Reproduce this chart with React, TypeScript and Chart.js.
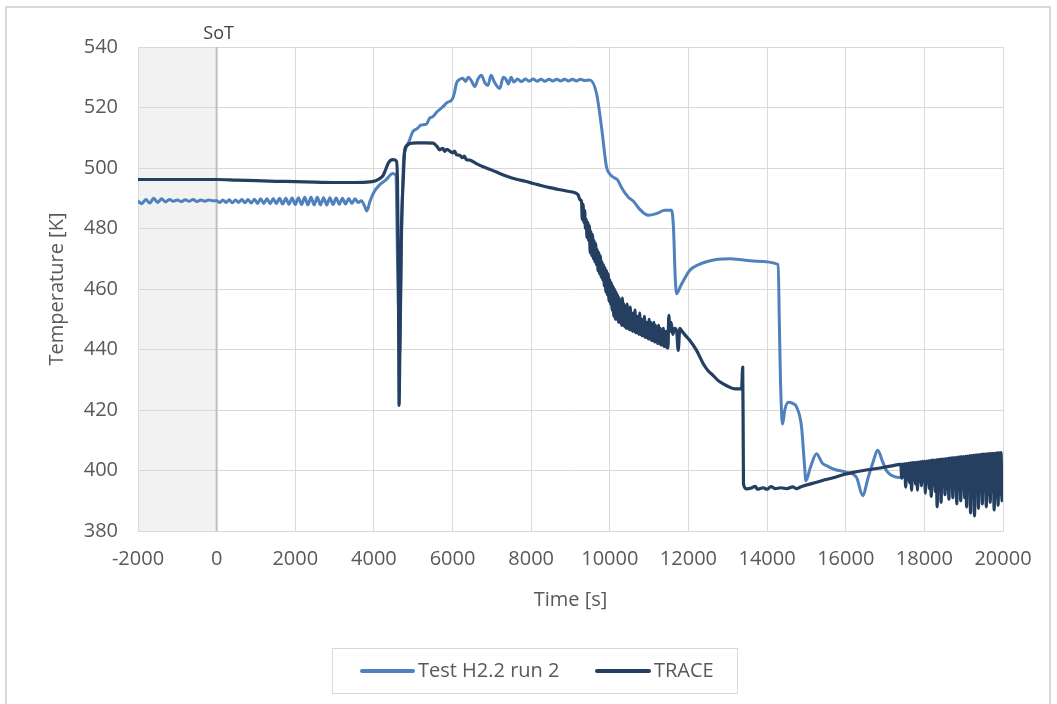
import React, { useEffect, useRef } from "react";
import { Chart, registerables } from "chart.js";

Chart.register(...registerables);

const FONT = "'Open Sans', 'Noto Sans', sans-serif";
const TEXT_COLOR = "#595959";
const GRID_COLOR = "#d9d9d9";

const seriesNames = ["Test H2.2 run 2", "TRACE"];
const seriesColors = ["#4F81BD", "#243F60"];
const xAxisTitle = "Time [s]";
const yAxisTitle = "Temperature [K]";
const markerLabel = "SoT";
const markerTime = 0;
const shadeRange = [-2000, 0];

const testTime = [
  -2000, -1900, -1800, -1700, -1600, -1500, -1400, -1300, -1200, -1100,
  -1000, -900, -800, -700, -600, -500, -400, -300, -200, -100,
  0, 80, 160, 240, 320, 400, 480, 560, 640, 720,
  800, 880, 960, 1040, 1120, 1200, 1280, 1360, 1440, 1520,
  1600, 1680, 1760, 1840, 1920, 2000, 2080, 2160, 2240, 2320,
  2400, 2480, 2560, 2640, 2720, 2800, 2880, 2960, 3040, 3120,
  3200, 3280, 3360, 3440, 3520, 3600, 3680, 3760, 3820, 3900,
  4000, 4150, 4300, 4480, 4560, 4600, 4657, 4700, 4750, 4800,
  4900, 4988, 5100, 5200, 5335, 5420, 5500, 5600, 5751, 5850,
  6005, 6050, 6099, 6180, 6260, 6330, 6400, 6480, 6565, 6650,
  6735, 6820, 6900, 6980, 7060, 7201, 7290, 7350, 7420, 7490,
  7560, 7650, 7750, 7850, 7950, 8050, 8150, 8250, 8350, 8450,
  8550, 8650, 8750, 8850, 8950, 9050, 9150, 9250, 9350, 9491,
  9661, 9788, 9915, 10000, 10085, 10200, 10300, 10466, 10600, 10750,
  10975, 11200, 11400, 11570, 11620, 11660, 11697, 11800, 12036, 12250,
  12460, 12750, 13054, 13400, 13733, 14283, 14310, 14340, 14394, 14450,
  14538, 14650, 14750, 14877, 14950, 14987, 15100, 15258, 15400, 15513,
  15682, 16021, 16276, 16429, 16572, 16700, 16811, 16950, 17040, 17379,
  17700, 18000, 18500, 19000, 19500, 20000,
];

const testTemp = [
  489.0, 488.2, 489.6, 488.4, 490.0, 488.6, 489.8, 488.8, 489.6, 489.0,
  489.4, 488.9, 489.5, 489.0, 489.6, 488.9, 489.4, 489.0, 489.4, 489.2,
  489.2, 488.6, 489.4, 488.6, 489.5, 488.5, 489.4, 488.6, 489.6, 488.5,
  489.6, 488.4, 489.7, 488.3, 489.8, 488.3, 489.8, 488.2, 489.9, 488.2,
  490.0, 488.1, 490.0, 488.0, 490.1, 487.9, 490.2, 487.9, 490.3, 487.8,
  490.3, 487.8, 490.3, 487.8, 490.2, 487.8, 490.2, 487.9, 490.1, 488.0,
  490.0, 488.1, 489.9, 488.3, 489.8, 488.6, 489.2, 487.5, 485.8, 489.0,
  492.0, 494.5, 496.0, 498.2, 497.5, 470.0, 438.7, 475.0, 501.5, 506.0,
  509.0, 512.0, 513.0, 514.2, 514.5, 516.5, 517.0, 518.5, 520.2, 521.5,
  523.0, 525.0, 528.0, 529.3, 529.7, 528.6, 530.0, 528.8, 526.9, 529.5,
  530.7, 528.2, 527.3, 530.7, 528.5, 526.3, 530.0, 529.5, 527.8, 530.0,
  528.4, 529.4, 528.6, 529.4, 528.7, 529.4, 528.7, 529.3, 528.7, 529.3,
  528.8, 529.3, 528.8, 529.3, 528.8, 529.3, 528.8, 529.3, 528.9, 529.1,
  524.7, 513.6, 500.4, 498.0, 497.0, 496.0, 493.5, 490.4, 489.0, 486.5,
  484.4, 485.0, 486.0, 486.0, 480.0, 465.0, 458.4, 461.0, 466.2, 468.0,
  469.0, 469.8, 470.0, 469.6, 469.2, 468.1, 450.0, 430.0, 415.4, 420.0,
  422.6, 422.2, 421.0, 414.3, 402.0, 396.6, 401.0, 405.5, 402.5, 401.6,
  400.5, 399.4, 397.7, 391.7, 397.7, 403.0, 406.7, 402.5, 399.9, 397.7,
  398.5, 399.0, 399.5, 400.0, 400.2, 400.0,
];

const traceTime = [
  -2000, -1000, 0, 500, 1000, 1500, 2000, 2500, 3000, 3500,
  3893, 4050, 4150, 4232, 4300, 4360, 4430, 4487, 4572, 4600,
  4625, 4640, 4660, 4700, 4750, 4784, 4850, 4911, 5100, 5300,
  5505, 5600, 5674, 5750, 5800, 5850, 5929, 6000, 6050, 6100,
  6184, 6250, 6300, 6350, 6438, 6600, 6776, 7000, 7201, 7400,
  7625, 7850, 8049, 8250, 8473, 8700, 8898, 9152, 9200, 9240,
  9280, 9300, 9320, 9340, 9360, 9380, 9400, 9420, 9440, 9460,
  9480, 9500, 9520, 9540, 9560, 9580, 9600, 9620, 9640, 9660,
  9680, 9700, 9720, 9740, 9760, 9780, 9800, 9820, 9840, 9860,
  9880, 9900, 9920, 9940, 9960, 9980, 10000, 10020, 10040, 10060,
  10080, 10100, 10120, 10140, 10160, 10180, 10200, 10220, 10240, 10260,
  10280, 10300, 10320, 10340, 10360, 10380, 10400, 10420, 10440, 10460,
  10480, 10500, 10520, 10540, 10560, 10580, 10600, 10620, 10640, 10660,
  10680, 10700, 10720, 10740, 10760, 10780, 10800, 10820, 10840, 10860,
  10880, 10900, 10920, 10940, 10960, 10980, 11000, 11020, 11040, 11060,
  11080, 11100, 11120, 11140, 11160, 11180, 11200, 11220, 11240, 11260,
  11280, 11300, 11320, 11340, 11360, 11380, 11400, 11420, 11440, 11460,
  11480,
  11500, 11530, 11560, 11600, 11650, 11700, 11740, 11780, 11824, 11900,
  12036, 12206, 12376, 12500, 12630, 12750, 12884, 13050, 13181, 13351,
  13380, 13393, 13400, 13478, 13600, 13700, 13750, 13900, 14000, 14100,
  14200, 14350, 14500, 14650, 14750, 14835, 15000, 15258, 15500, 15682,
  15950, 16191, 16450, 16700, 16950, 17209, 17379,
  17400, 17425, 17450, 17475, 17500, 17525, 17550, 17575, 17600, 17625,
  17650, 17675, 17700, 17725, 17750, 17775, 17800, 17825, 17850, 17875,
  17900, 17925, 17950, 17975, 18000, 18025, 18050, 18075, 18100, 18125,
  18150, 18175, 18200, 18225, 18250, 18275, 18300, 18325, 18350, 18375,
  18400, 18425, 18450, 18475, 18500, 18525, 18550, 18575, 18600, 18625,
  18650, 18675, 18700, 18725, 18750, 18775, 18800, 18825, 18850, 18875,
  18900, 18925, 18950, 18975, 19000, 19025, 19050, 19075, 19100, 19125,
  19150, 19175, 19200, 19225, 19250, 19275, 19300, 19325, 19350, 19375,
  19400, 19425, 19450, 19475, 19500, 19525, 19550, 19575, 19600, 19625,
  19650, 19675, 19700, 19725, 19750, 19775, 19800, 19825, 19850, 19875,
  19900, 19925, 19950, 19975, 20000,
];

const traceTemp = [
  496.2, 496.2, 496.2, 496.0, 495.8, 495.6, 495.5, 495.3, 495.2, 495.2,
  495.4, 495.8, 496.5, 497.5, 499.5, 501.5, 502.6, 502.8, 502.3, 495.0,
  460.0, 421.5, 440.0, 479.4, 497.0, 505.9, 507.5, 508.1, 508.3, 508.3,
  508.2, 507.2, 506.0, 506.5, 505.5, 506.2, 505.6, 505.0, 505.6, 504.4,
  504.2, 503.4, 503.9, 502.8, 502.6, 501.5, 500.4, 499.3, 498.2, 497.2,
  496.3, 495.6, 494.9, 494.2, 493.5, 492.9, 492.4, 491.6, 491.0, 489.5,
  489.0, 483.0, 488.0, 482.0, 486.0, 480.0, 483.0, 477.0, 482.0, 476.0,
  481.0, 472.0, 479.0, 471.0, 478.0, 470.0, 476.0, 469.0, 475.0, 468.0,
  473.0, 466.0, 472.0, 465.0, 471.0, 464.0, 469.0, 463.0, 468.0, 461.0,
  467.0, 459.0, 466.0, 458.0, 465.0, 456.0, 463.0, 455.0, 462.0, 453.0,
  461.0, 451.0, 460.0, 450.0, 459.0, 450.0, 458.0, 449.0, 457.0, 449.0,
  456.0, 448.0, 457.0, 448.0, 455.0, 447.5, 454.0, 447.0, 455.0, 447.0,
  453.0, 446.5, 454.0, 446.5, 452.0, 446.0, 452.0, 446.0, 453.0, 445.5,
  451.0, 445.5, 451.0, 445.0, 452.0, 445.0, 450.0, 444.5, 450.0, 444.5,
  451.0, 444.0, 449.0, 444.0, 449.0, 443.5, 450.0, 443.5, 449.0, 443.0,
  448.0, 443.0, 449.0, 442.5, 448.0, 442.5, 447.0, 442.0, 448.0, 442.0,
  447.0, 441.5, 446.0, 441.5, 447.0, 441.0, 446.0, 441.0, 446.0, 440.5,
  440.5,
  451.3, 446.0, 449.0, 445.0, 447.0, 446.0, 439.7, 447.0, 446.3, 445.0,
  443.0, 439.7, 435.3, 433.0, 431.4, 429.8, 428.6, 427.5, 427.0, 427.0,
  434.2, 410.0, 395.5, 393.9, 394.2, 394.8, 393.8, 394.3, 393.8, 394.7,
  394.0, 394.3, 394.0, 394.6, 394.0, 394.5, 395.2, 396.1, 397.0, 397.6,
  398.7, 399.4, 400.0, 400.5, 401.0, 401.6, 402.0,
  402.0, 397.5, 402.1, 398.0, 402.2, 394.5, 402.3, 397.0, 402.4, 396.0,
  402.5, 393.5, 402.6, 397.0, 402.6, 395.5, 402.7, 393.5, 402.8, 396.5,
  402.9, 395.0, 403.0, 396.5, 403.0, 392.5, 403.1, 396.0, 403.2, 394.0,
  403.3, 391.5, 403.4, 395.5, 403.4, 393.0, 403.5, 388.0, 403.6, 394.5,
  403.7, 389.5, 403.8, 395.0, 403.8, 392.0, 403.9, 394.0, 404.0, 390.5,
  404.1, 395.0, 404.2, 391.0, 404.3, 394.0, 404.3, 389.0, 404.4, 393.5,
  404.5, 390.0, 404.6, 394.0, 404.6, 391.0, 404.7, 388.0, 404.8, 393.5,
  404.9, 386.0, 404.9, 391.0, 405.0, 385.0, 405.1, 392.5, 405.2, 387.5,
  405.2, 393.0, 405.3, 389.0, 405.4, 393.5, 405.4, 388.0, 405.5, 392.0,
  405.6, 389.5, 405.6, 393.0, 405.7, 387.0, 405.7, 391.0, 405.8, 388.5,
  405.8, 392.0, 405.9, 390.0, 399.0,
];

const bgPlugin = {
  id: "sotShade",
  beforeDraw(chart: any) {
    const { ctx, chartArea, scales } = chart;
    const x = scales.x;
    const x0 = x.getPixelForValue(shadeRange[0]);
    const x1 = x.getPixelForValue(shadeRange[1]);
    ctx.save();
    ctx.fillStyle = "#f2f2f2";
    ctx.fillRect(x0, chartArea.top, x1 - x0, chartArea.bottom - chartArea.top);
    ctx.restore();
  },
  beforeDatasetsDraw(chart: any) {
    const { ctx, chartArea, scales } = chart;
    const xm = scales.x.getPixelForValue(markerTime);
    ctx.save();
    ctx.strokeStyle = "#bfbfbf";
    ctx.lineWidth = 2;
    ctx.beginPath();
    ctx.moveTo(xm, chartArea.top);
    ctx.lineTo(xm, chartArea.bottom);
    ctx.stroke();
    ctx.fillStyle = "#404040";
    ctx.font = `18px ${FONT}`;
    ctx.textAlign = "center";
    ctx.textBaseline = "middle";
    ctx.fillText(markerLabel, xm + 2, 34);
    ctx.restore();
  },
};

const legendPlugin = {
  id: "boxLegend",
  afterDraw(chart: any) {
    const { ctx } = chart;
    ctx.save();
    ctx.strokeStyle = GRID_COLOR;
    ctx.lineWidth = 1;
    ctx.strokeRect(332.5, 648.5, 405, 45);
    const items = [
      { x0: 362, x1: 413, tx: 418 },
      { x0: 597, x1: 649, tx: 654 },
    ];
    chart.data.datasets.forEach((ds: any, i: number) => {
      const it = items[i];
      ctx.strokeStyle = ds.borderColor;
      ctx.lineWidth = 4;
      ctx.lineCap = "round";
      ctx.beginPath();
      ctx.moveTo(it.x0, 671);
      ctx.lineTo(it.x1, 671);
      ctx.stroke();
      ctx.fillStyle = TEXT_COLOR;
      ctx.font = `20px ${FONT}`;
      ctx.textAlign = "left";
      ctx.textBaseline = "middle";
      ctx.fillText(ds.label, it.tx, 671);
    });
    ctx.restore();
  },
};

export default function App() {
  const ref = useRef<HTMLCanvasElement>(null);
  useEffect(() => {
    const canvas = ref.current;
    if (!canvas) return;
    const tickFont = { family: FONT, size: 20 };
    const plain = (v: any) => String(v);
    const chart = new Chart(canvas, {
      type: "line",
      data: {
        datasets: [
          {
            label: seriesNames[0],
            data: testTime.map((t, i) => ({ x: t, y: testTemp[i] })),
            borderColor: seriesColors[0],
            backgroundColor: seriesColors[0],
            borderWidth: 3,
            pointRadius: 0,
            cubicInterpolationMode: "monotone",
            borderJoinStyle: "round",
            borderCapStyle: "round",
            order: 1,
          },
          {
            label: seriesNames[1],
            data: traceTime.map((t, i) => ({ x: t, y: traceTemp[i] })),
            borderColor: seriesColors[1],
            backgroundColor: seriesColors[1],
            borderWidth: 3.2,
            pointRadius: 0,
            cubicInterpolationMode: "monotone",
            borderJoinStyle: "round",
            borderCapStyle: "round",
            order: 0,
          },
        ],
      },
      options: {
        responsive: false,
        animation: false,
        layout: { padding: { left: 0, top: 47, right: 54, bottom: 0 } },
        plugins: {
          legend: { display: false },
          tooltip: { enabled: false },
        },
        scales: {
          x: {
            type: "linear",
            min: -2000,
            max: 20000,
            ticks: { stepSize: 2000, color: TEXT_COLOR, font: tickFont, padding: 16, maxRotation: 0, callback: plain },
            grid: { color: GRID_COLOR, drawTicks: false, lineWidth: 1 },
            border: { color: GRID_COLOR },
            title: {
              display: true,
              text: xAxisTitle,
              color: TEXT_COLOR,
              font: tickFont,
              padding: { top: 0, bottom: 92 },
            },
            afterFit: (s: any) => {
              s.height = 173;
            },
          },
          y: {
            type: "linear",
            min: 380,
            max: 540,
            ticks: { stepSize: 20, color: TEXT_COLOR, font: tickFont, padding: 20, callback: plain },
            grid: { color: GRID_COLOR, drawTicks: false, lineWidth: 1 },
            border: { display: false },
            title: {
              display: true,
              text: yAxisTitle,
              color: TEXT_COLOR,
              font: tickFont,
              padding: { top: 45, bottom: 0 },
            },
            afterFit: (s: any) => {
              s.width = 138;
            },
          },
        },
      },
      plugins: [bgPlugin, legendPlugin],
    } as any);
    return () => chart.destroy();
  }, []);

  return (
    <div style={{ position: "fixed", left: 0, top: 0, width: 1057, height: 704, background: "#fff", overflow: "hidden" }}>
      <div
        style={{
          position: "absolute",
          left: 5,
          top: 6,
          width: 1046,
          height: 720,
          border: `2px solid ${GRID_COLOR}`,
          boxSizing: "border-box",
        }}
      />
      <canvas ref={ref} width={1057} height={704} style={{ position: "absolute", left: 0, top: 0, display: "block" }} />
    </div>
  );
}
